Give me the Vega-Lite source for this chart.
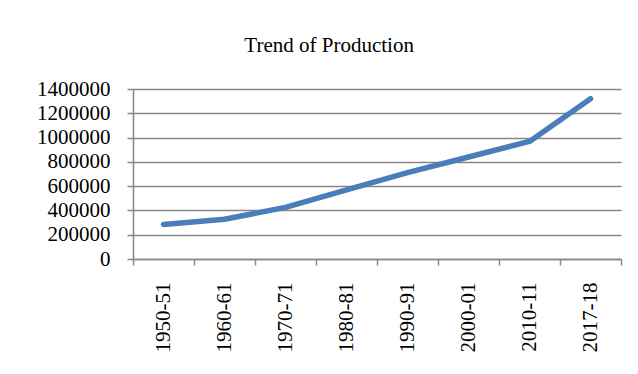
{
  "$schema": "https://vega.github.io/schema/vega-lite/v6.json",
  "width": 488,
  "height": 170,
  "autosize": {"type": "none"},
  "padding": {"left": 133, "top": 89, "right": 17, "bottom": 115},
  "background": "white",
  "title": {
    "text": "Trend of Production",
    "font": "Liberation Serif",
    "fontSize": 21,
    "fontWeight": "normal",
    "color": "black",
    "anchor": "middle",
    "frame": "bounds",
    "offset": 22
  },
  "data": {
    "values": [
      {"year": "1950-51", "production": 285000},
      {"year": "1960-61", "production": 327000},
      {"year": "1970-71", "production": 425000},
      {"year": "1980-81", "production": 570000},
      {"year": "1990-91", "production": 712000},
      {"year": "2000-01", "production": 840000},
      {"year": "2010-11", "production": 968000},
      {"year": "2017-18", "production": 1320000}
    ]
  },
  "config": {
    "view": {"stroke": null},
    "axis": {
      "labelFont": "Liberation Serif",
      "labelFontSize": 21,
      "labelColor": "black",
      "labelOverlap": false,
      "labelBound": false,
      "domainColor": "#878787",
      "domainWidth": 1.5,
      "tickColor": "#878787",
      "tickWidth": 1.5,
      "tickSize": 6,
      "gridColor": "#878787",
      "gridWidth": 1.5,
      "title": null
    }
  },
  "mark": {"type": "line", "color": "#4a7ebb", "strokeWidth": 5.5, "strokeJoin": "round", "strokeCap": "round"},
  "encoding": {
    "x": {
      "field": "year",
      "type": "ordinal",
      "bandPosition": 0.5,
      "scale": {"type": "band", "paddingInner": 0, "paddingOuter": 0},
      "axis": {"orient": "bottom", "tickBand": "extent", "grid": false, "labelAngle": 270, "labelAlign": "right", "labelBaseline": "middle", "labelPadding": 17}
    },
    "y": {
      "field": "production",
      "type": "quantitative",
      "scale": {"domain": [0, 1400000], "nice": false},
      "axis": {"values": [0, 200000, 400000, 600000, 800000, 1000000, 1200000, 1400000], "format": "d", "grid": true, "labelPadding": 17}
    }
  }
}
